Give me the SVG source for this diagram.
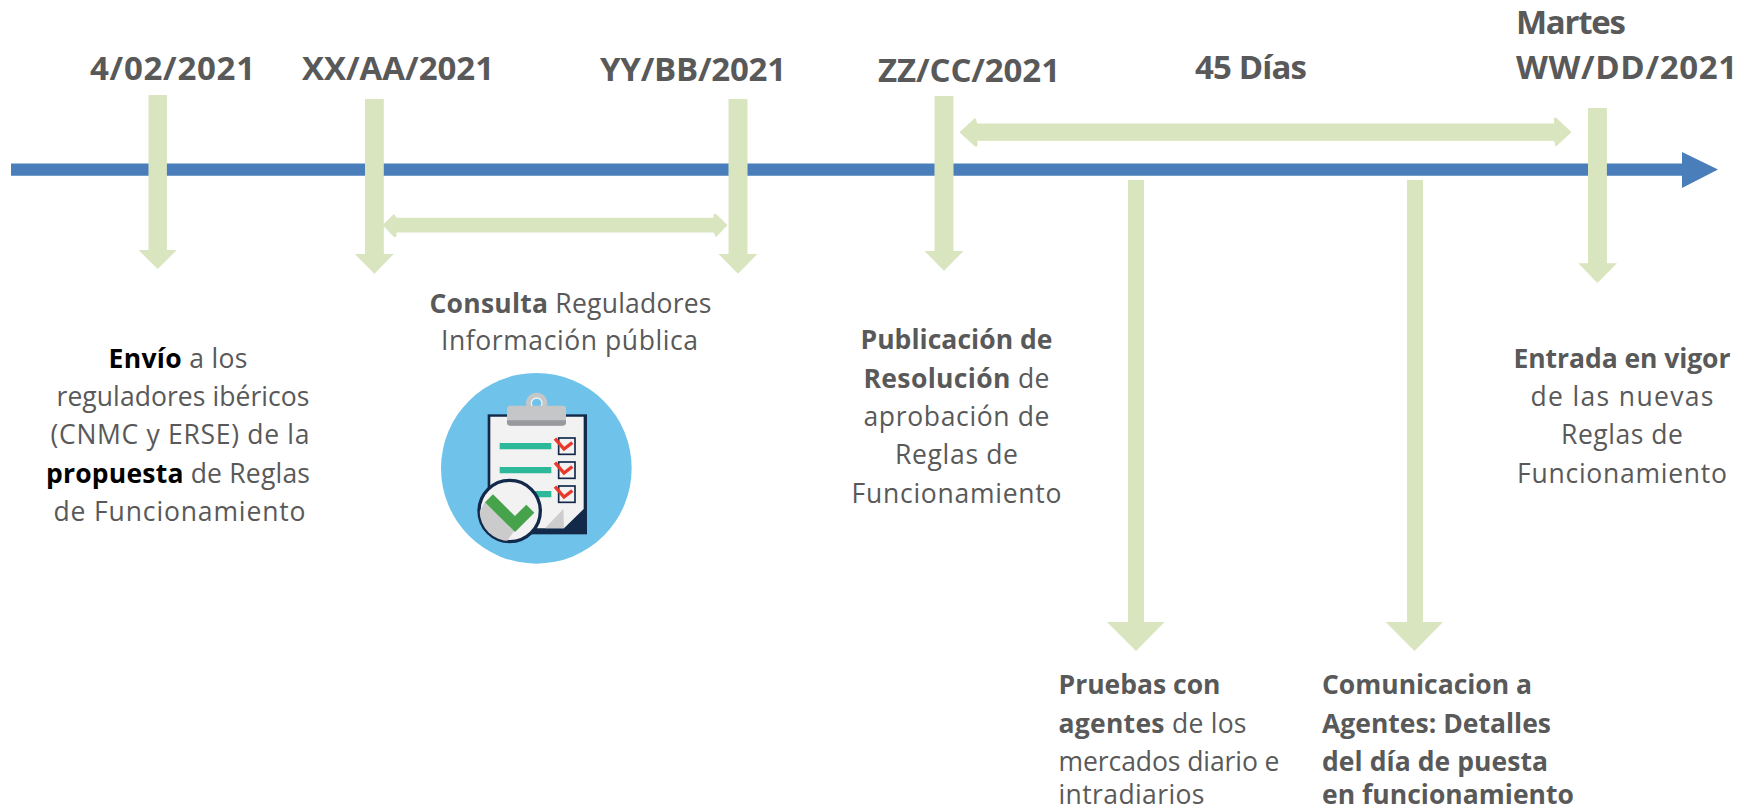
<svg xmlns="http://www.w3.org/2000/svg" width="1754" height="812" viewBox="0 0 1754 812">
<style>
text{font-family:"Open Sans","Liberation Sans",sans-serif;fill:#595959}
.d{font-size:33px;font-weight:700}
.b{font-size:26.500px}
.c{text-anchor:middle}
.s{font-weight:700}
.k{fill:#000;font-weight:700}
.a{fill:#d9e5bf}
</style>
<defs><clipPath id="badge"><circle cx="269" cy="453" r="90"/></clipPath></defs>
<rect width="1754" height="812" fill="#fff"/>
<g id="connectors">
<path id="timeline" d="M11 163.500H1682V152L1718 169.500L1682 188V175.700H11Z" fill="#4a7ebb"/>
<path class="a" d="M148.500 95H166.900V250H176.800L157.700 269L138.500 250H148.500Z"/>
<path class="a" d="M365 99H383.800V254H393.800L374.400 273.700L354.800 254H365Z"/>
<path class="a" d="M728.500 99H747.500V254H757.500L738 273.700L718.500 254H728.500Z"/>
<path class="a" d="M934.500 96H953.500V251H963.500L944 270.700L924.500 251H934.500Z"/>
<path class="a" d="M1588 108H1606.900V263.300H1617L1597.400 283L1578.400 263.300H1588Z"/>
<path class="a" d="M1128 180H1144V622H1164.600L1136 651L1107 622H1128Z"/>
<path class="a" d="M1407 180H1423V622H1443L1414.500 651L1385.700 622H1407Z"/>
<path class="a" d="M383 225.200L394 214.500L396 218.300H714V214.500L716 214.500L727 225.200L716 236.500L714 232H396V236.500L394 236.500Z" stroke="#d9e5bf" stroke-width="1" stroke-linejoin="round"/>
<path class="a" d="M960 132.200L975 118.500L977 124H1554.500V118L1556 118L1571 132.200L1556 146L1554.500 140.300H977V146L975 146Z" stroke="#d9e5bf" stroke-width="1" stroke-linejoin="round"/>
</g>
<g id="date-1"><text class="d" x="90" y="80" textLength="165">4/02/2021</text></g>
<g id="date-2"><text class="d" x="302" y="80" textLength="192">XX/AA/2021</text></g>
<g id="date-3"><text class="d" x="600" y="81" textLength="186">YY/BB/2021</text></g>
<g id="date-4"><text class="d" x="878" y="82" textLength="182">ZZ/CC/2021</text></g>
<g id="label-45"><text class="d" x="1195" y="79" textLength="112">45 Días</text></g>
<g id="date-5"><text class="d" x="1516" y="34" textLength="110">Martes</text><text class="d" x="1516" y="79" textLength="221">WW/DD/2021</text></g>
<g id="node-envio">
<text class="b c" x="178" y="368" textLength="139"><tspan class="k">Envío</tspan> a los</text>
<text class="b c" x="183" y="406" textLength="253">reguladores ibéricos</text>
<text class="b c" x="180" y="444" textLength="259">(CNMC y ERSE) de la</text>
<text class="b c" x="178" y="483" textLength="264"><tspan class="k">propuesta</tspan> de Reglas</text>
<text class="b c" x="179.500" y="521" textLength="252">de Funcionamiento</text>
</g>
<g id="node-consulta">
<text class="b c" x="570.500" y="313" textLength="282"><tspan class="s">Consulta</tspan> Reguladores</text>
<text class="b c" x="569.500" y="350" textLength="257">Información pública</text>
<g id="icon" transform="translate(420 360) scale(.33333)">
<circle cx="349" cy="325" r="286" fill="#6fc3ea"/>
<rect x="203" y="163" width="298" height="360" fill="#12294a"/>
<path d="M211 170H491V447L432 505H211Z" fill="#f2f2f2"/>
<path d="M375 505L430 447L432 505Z" fill="#cdcdcd"/>
<circle cx="350" cy="130" r="32" fill="#c4c6c7"/>
<circle cx="350" cy="130" r="16" fill="#6fc3ea" stroke="#f2f2f2" stroke-width="4"/>
<rect x="261" y="137" width="177" height="60" rx="10" fill="#c4c6c7"/>
<path d="M261 181H438V187Q438 197 428 197H271Q261 197 261 187Z" fill="#97999c"/>
<path d="M239 249H394V268H239ZM239 321H394V340H239ZM239 393H394V412H239Z" fill="#2cb99a"/>
<g fill="#f2f2f2" stroke="#12294a" stroke-width="5">
<rect x="416" y="234" width="49" height="49"/><rect x="416" y="306" width="49" height="49"/><rect x="416" y="378" width="49" height="49"/>
</g>
<g fill="none" stroke="#e8392a" stroke-width="10">
<path d="M405 236L432 267L457 248"/><path d="M405 308L432 339L457 320"/><path d="M405 380L432 411L457 392"/>
</g>
<circle cx="269" cy="453" r="92" fill="#f2f2f2" stroke="#12294a" stroke-width="10"/>
<path clip-path="url(#badge)" d="M195 425L283 512L260 545L190 545L170 470Z" fill="#cbcbcb"/>
<path d="M207 415L285 492L331 446" fill="none" stroke="#47a34b" stroke-width="34"/>
</g>
</g>
<g id="node-publicacion">
<text class="b c" x="956.500" y="349" textLength="192"><tspan class="s">Publicación de</tspan></text>
<text class="b c" x="956.500" y="388" textLength="186"><tspan class="s">Resolución</tspan> de</text>
<text class="b c" x="956.500" y="426" textLength="186">aprobación de</text>
<text class="b c" x="956.500" y="464" textLength="123">Reglas de</text>
<text class="b c" x="956.500" y="503" textLength="210">Funcionamiento</text>
</g>
<g id="node-entrada">
<text class="b c" x="1622" y="368" textLength="217"><tspan class="s">Entrada en vigor</tspan></text>
<text class="b c" x="1622" y="406" textLength="183">de las nuevas</text>
<text class="b c" x="1622" y="444" textLength="122">Reglas de</text>
<text class="b c" x="1622" y="483" textLength="210">Funcionamiento</text>
</g>
<g id="node-pruebas">
<text class="b" x="1058.500" y="694" textLength="162"><tspan class="s">Pruebas con</tspan></text>
<text class="b" x="1058.500" y="733" textLength="188"><tspan class="s">agentes</tspan> de los</text>
<text class="b" x="1058.500" y="771" textLength="221">mercados diario e</text>
<text class="b" x="1058.500" y="804" textLength="146">intradiarios</text>
</g>
<g id="node-comunicacion">
<text class="b s" x="1322" y="694" textLength="210">Comunicacion a</text>
<text class="b s" x="1322" y="733" textLength="229">Agentes: Detalles</text>
<text class="b s" x="1322" y="771" textLength="226">del día de puesta</text>
<text class="b s" x="1322" y="804" textLength="252">en funcionamiento</text>
</g>
</svg>
